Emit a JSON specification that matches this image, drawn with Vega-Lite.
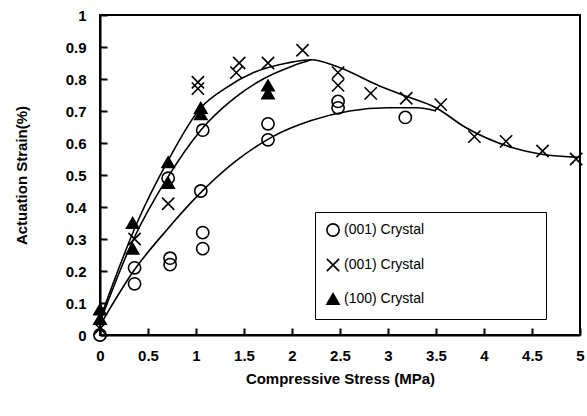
{
  "$schema": "https://vega.github.io/schema/vega-lite/v6.json",
  "width": 480,
  "height": 320,
  "autosize": {"type": "none"},
  "padding": {"left": 100, "top": 15, "right": 7, "bottom": 81},
  "background": "white",
  "config": {
    "view": {"stroke": "black", "strokeWidth": 2},
    "font": "Liberation Sans"
  },
  "datasets": {
    "pts": [
      {"x": 0.0, "y": 0.0, "s": "c"},
      {"x": 0.36, "y": 0.16, "s": "c"},
      {"x": 0.36, "y": 0.21, "s": "c"},
      {"x": 0.73, "y": 0.22, "s": "c"},
      {"x": 0.73, "y": 0.24, "s": "c"},
      {"x": 0.71, "y": 0.49, "s": "c"},
      {"x": 1.07, "y": 0.27, "s": "c"},
      {"x": 1.07, "y": 0.32, "s": "c"},
      {"x": 1.05, "y": 0.45, "s": "c"},
      {"x": 1.07, "y": 0.64, "s": "c"},
      {"x": 1.75, "y": 0.61, "s": "c"},
      {"x": 1.75, "y": 0.66, "s": "c"},
      {"x": 2.48, "y": 0.71, "s": "c"},
      {"x": 2.48, "y": 0.73, "s": "c"},
      {"x": 3.18, "y": 0.68, "s": "c"},
      {"x": 0.0, "y": 0.02, "s": "x"},
      {"x": 0.36, "y": 0.3, "s": "x"},
      {"x": 0.71, "y": 0.41, "s": "x"},
      {"x": 1.02, "y": 0.77, "s": "x"},
      {"x": 1.02, "y": 0.79, "s": "x"},
      {"x": 1.42, "y": 0.82, "s": "x"},
      {"x": 1.45, "y": 0.85, "s": "x"},
      {"x": 1.75, "y": 0.85, "s": "x"},
      {"x": 2.11, "y": 0.89, "s": "x"},
      {"x": 2.48, "y": 0.78, "s": "x"},
      {"x": 2.48, "y": 0.82, "s": "x"},
      {"x": 2.82, "y": 0.755, "s": "x"},
      {"x": 3.19, "y": 0.74, "s": "x"},
      {"x": 3.55, "y": 0.72, "s": "x"},
      {"x": 3.9, "y": 0.62, "s": "x"},
      {"x": 4.23, "y": 0.605, "s": "x"},
      {"x": 4.61, "y": 0.575, "s": "x"},
      {"x": 4.96, "y": 0.55, "s": "x"},
      {"x": 0.0, "y": 0.05, "s": "t"},
      {"x": 0.0, "y": 0.08, "s": "t"},
      {"x": 0.34, "y": 0.27, "s": "t"},
      {"x": 0.34, "y": 0.35, "s": "t"},
      {"x": 0.71, "y": 0.475, "s": "t"},
      {"x": 0.71, "y": 0.54, "s": "t"},
      {"x": 1.05, "y": 0.69, "s": "t"},
      {"x": 1.05, "y": 0.71, "s": "t"},
      {"x": 1.75, "y": 0.755, "s": "t"},
      {"x": 1.75, "y": 0.78, "s": "t"}
    ],
    "lines": [
      {"x": 0.0, "y": 0.03, "c": "low"},
      {"x": 0.35, "y": 0.2, "c": "low"},
      {"x": 0.7, "y": 0.33, "c": "low"},
      {"x": 1.0, "y": 0.43, "c": "low"},
      {"x": 1.4, "y": 0.54, "c": "low"},
      {"x": 1.8, "y": 0.62, "c": "low"},
      {"x": 2.2, "y": 0.67, "c": "low"},
      {"x": 2.6, "y": 0.7, "c": "low"},
      {"x": 3.0, "y": 0.71, "c": "low"},
      {"x": 3.3, "y": 0.71, "c": "low"},
      {"x": 3.5, "y": 0.7, "c": "low"},
      {"x": 0.0, "y": 0.04, "c": "mid"},
      {"x": 0.35, "y": 0.3, "c": "mid"},
      {"x": 0.7, "y": 0.49, "c": "mid"},
      {"x": 1.05, "y": 0.64, "c": "mid"},
      {"x": 1.4, "y": 0.74, "c": "mid"},
      {"x": 1.7, "y": 0.8, "c": "mid"},
      {"x": 2.0, "y": 0.84, "c": "mid"},
      {"x": 2.2, "y": 0.86, "c": "mid"},
      {"x": 0.0, "y": 0.05, "c": "top"},
      {"x": 0.4, "y": 0.36, "c": "top"},
      {"x": 0.7, "y": 0.54, "c": "top"},
      {"x": 1.05, "y": 0.71, "c": "top"},
      {"x": 1.3, "y": 0.77, "c": "top"},
      {"x": 1.6, "y": 0.82, "c": "top"},
      {"x": 1.95, "y": 0.85, "c": "top"},
      {"x": 2.2, "y": 0.86, "c": "top"},
      {"x": 2.5, "y": 0.835, "c": "top"},
      {"x": 2.9, "y": 0.78, "c": "top"},
      {"x": 3.2, "y": 0.745, "c": "top"},
      {"x": 3.5, "y": 0.71, "c": "top"},
      {"x": 3.8, "y": 0.65, "c": "top"},
      {"x": 4.3, "y": 0.585, "c": "top"},
      {"x": 4.6, "y": 0.565, "c": "top"},
      {"x": 5.0, "y": 0.555, "c": "top"}
    ]
  },
  "encoding": {
    "x": {
      "field": "x", "type": "quantitative",
      "scale": {"domain": [0, 5], "nice": false},
      "axis": {
        "title": "Compressive Stress (MPa)",
        "values": [0, 0.5, 1, 1.5, 2, 2.5, 3, 3.5, 4, 4.5, 5],
        "format": "~g",
        "grid": false, "domainColor": "black", "domainWidth": 2,
        "tickColor": "black", "tickSize": -7, "tickWidth": 2,
        "labelPadding": 20, "labelFontSize": 15, "labelFontWeight": "bold",
        "labelColor": "black", "labelFlush": false,
        "titleFontSize": 15, "titleFontWeight": "bold", "titleColor": "black",
        "titlePadding": 8
      }
    },
    "y": {
      "field": "y", "type": "quantitative",
      "scale": {"domain": [0, 1], "nice": false},
      "axis": {
        "title": "Actuation Strain(%)",
        "values": [0, 0.1, 0.2, 0.3, 0.4, 0.5, 0.6, 0.7, 0.8, 0.9, 1],
        "format": "~g",
        "grid": false, "domainColor": "black", "domainWidth": 2,
        "tickColor": "black", "tickSize": -7, "tickWidth": 2,
        "labelPadding": 21, "labelFontSize": 15, "labelFontWeight": "bold",
        "labelColor": "black", "labelFlush": false,
        "titleFontSize": 15, "titleFontWeight": "bold", "titleColor": "black",
        "titlePadding": 36
      }
    }
  },
  "layer": [
    {
      "data": {"name": "lines"},
      "mark": {"type": "line", "color": "black", "strokeWidth": 1.6, "interpolate": "monotone"},
      "encoding": {"detail": {"field": "c"}}
    },
    {
      "data": {"name": "pts"},
      "mark": {"type": "point", "filled": false, "stroke": "black", "strokeWidth": 1.6, "opacity": 1, "size": 150},
      "encoding": {
        "shape": {
          "field": "s", "type": "nominal",
          "scale": {"domain": ["c", "x", "t"], "range": ["circle", "M-1,-1L1,1M1,-1L-1,1", "triangle-up"]},
          "legend": {
            "orient": "none", "legendX": 215, "legendY": 197,
            "title": null,
            "labelExpr": "datum.value == 't' ? '(100) Crystal\u2800\u2800\u2800\u2800\u2800\u2800\u2800\u2800\u2800\u2800\u2800' : '(001) Crystal'",
            "labelFontSize": 14, "labelColor": "black", "labelFont": "Liberation Sans",
            "labelLimit": 400,
            "symbolSize": 150, "symbolStrokeWidth": 1.6,
            "rowPadding": 15, "padding": 11, "labelOffset": 4,
            "strokeColor": "black", "fillColor": "white",
            "encode": {"symbols": {"update": {"stroke": {"value": "black"}, "strokeWidth": {"value": 1.6}}}}
          }
        },
        "fill": {
          "field": "s", "type": "nominal",
          "scale": {"domain": ["c", "x", "t"], "range": ["transparent", "transparent", "black"]},
          "legend": null
        }
      }
    }
  ]
}
